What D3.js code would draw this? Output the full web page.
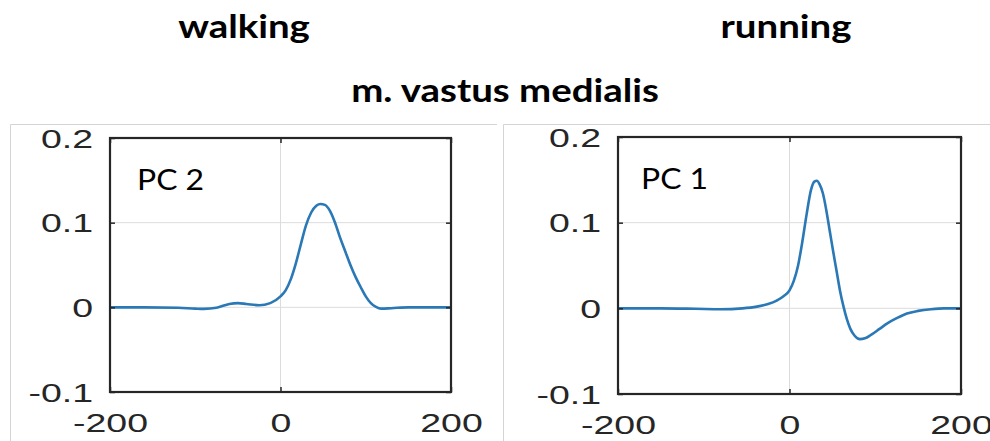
<!DOCTYPE html>
<html>
<head>
<meta charset="utf-8">
<script src="https://cdn.jsdelivr.net/npm/d3@7"></script>
<style>
  body { margin: 0; background: #fff; }
  svg { display: block; }
  .tick text { font-family: "Liberation Sans", Arial, sans-serif; fill: #262626; }
  .title { font-family: Lato, "Open Sans", sans-serif; font-weight: 700; fill: #000; }
  .pc { font-family: Lato, "Open Sans", sans-serif; fill: #000; }
</style>
</head>
<body>
<svg id="chart" width="990" height="441"></svg>
<script>
// tick values
const xTicks = [-200, 0, 200];
const yTicks = [-0.1, 0, 0.1, 0.2];
const gridX = [0];
const gridY = [0, 0.1];

// walking, PC 2
const walkX = [-200, -160, -120, -100, -90, -75, -60, -50, -40, -25, -12, 0, 6, 12, 18, 24, 30, 36, 42, 47, 52, 58, 64, 70, 76, 82, 88, 94, 100, 106, 112, 118, 130, 150, 175, 200];
const walkY = [0, 0, -0.0005, -0.0015, -0.0018, -0.0005, 0.004, 0.005, 0.004, 0.0025, 0.005, 0.013, 0.02, 0.033, 0.052, 0.075, 0.097, 0.112, 0.12, 0.122, 0.121, 0.114, 0.1, 0.082, 0.066, 0.05, 0.036, 0.024, 0.013, 0.005, 0.0005, -0.0015, -0.001, 0, 0, 0];

// running, PC 1
const runX = [-200, -150, -110, -80, -55, -38, -25, -15, -7, 0, 5, 10, 15, 20, 25, 29, 32, 35, 39, 43, 47, 51, 55, 59, 63, 67, 71, 76, 82, 88, 95, 105, 115, 125, 137, 150, 165, 180, 200];
const runY = [0, 0, -0.0005, -0.001, 0, 0.002, 0.005, 0.009, 0.014, 0.021, 0.032, 0.05, 0.078, 0.11, 0.138, 0.148, 0.149, 0.145, 0.134, 0.114, 0.09, 0.066, 0.043, 0.02, 0.002, -0.013, -0.024, -0.032, -0.036, -0.035, -0.031, -0.024, -0.017, -0.0115, -0.006, -0.003, -0.001, 0, 0];

const panels = [
  { label: "PC 2", xs: walkX, ys: walkY, frame: 10, box: [110, 451, 138, 392], pcAt: [137, 190] },
  { label: "PC 1", xs: runX, ys: runY, frame: 503, box: [618, 961, 137, 394], pcAt: [641, 189] }
];

const svg = d3.select("#chart");
const textStretch = 1.5;
const tickFmt = d => d === 0 ? "0" : (d < 0 ? "-" : "") + (Number.isInteger(d) ? String(Math.abs(d)) : Math.abs(d).toFixed(1));

// outer faint frames (screenshot borders)
panels.forEach(p => {
  svg.append("path")
    .attr("d", `M${p.frame + 0.5},441 V124.5 H${p.frame === 10 ? 497 : 990}`)
    .attr("fill", "none")
    .attr("stroke", "#d4d4d4")
    .attr("stroke-width", 1);
});

// headings
const heads = [["walking", 244, 38], ["running", 786, 38], ["m. vastus medialis", 505, 102]];
heads.forEach(h => {
  svg.append("text").attr("class", "title")
    .attr("transform", `translate(${h[1]},${h[2]}) scale(1.2,1)`)
    .attr("text-anchor", "middle").attr("font-size", 32).text(h[0]);
});

panels.forEach(p => {
  const [x0, x1, y0, y1] = p.box;
  const x = d3.scaleLinear().domain([-200, 200]).range([x0, x1]);
  const y = d3.scaleLinear().domain([-0.1, 0.2]).range([y1, y0]);
  const g = svg.append("g");

  g.append("rect").attr("x", x0).attr("y", y0)
    .attr("width", x1 - x0).attr("height", y1 - y0).attr("fill", "#fff");

  // grid
  g.selectAll(".gx").data(gridX).enter().append("line")
    .attr("x1", d => x(d)).attr("x2", d => x(d)).attr("y1", y0).attr("y2", y1)
    .attr("stroke", "#dcdcdc").attr("stroke-width", 1);
  g.selectAll(".gy").data(gridY).enter().append("line")
    .attr("y1", d => y(d)).attr("y2", d => y(d)).attr("x1", x0).attr("x2", x1)
    .attr("stroke", "#dcdcdc").attr("stroke-width", 1);

  // curve
  const pts = p.xs.map((v, i) => [v, p.ys[i]]);
  g.append("path").datum(pts)
    .attr("fill", "none")
    .attr("stroke", "#2a78b5")
    .attr("stroke-width", 2.6)
    .attr("d", d3.line().x(d => x(d[0])).y(d => y(d[1])).curve(d3.curveMonotoneX));

  // axes with inward ticks
  const ax = g.append("g").attr("transform", `translate(0,${y1})`)
    .call(d3.axisBottom(x).tickValues(xTicks).tickSizeInner(-5).tickSizeOuter(0).tickFormat(tickFmt));
  const ay = g.append("g").attr("transform", `translate(${x0},0)`)
    .call(d3.axisLeft(y).tickValues(yTicks).tickSizeInner(-5).tickSizeOuter(0).tickFormat(tickFmt));
  g.append("g").attr("transform", `translate(0,${y0})`)
    .call(d3.axisTop(x).tickValues(xTicks).tickSizeInner(-5).tickSizeOuter(0).tickFormat(""));
  g.append("g").attr("transform", `translate(${x1},0)`)
    .call(d3.axisRight(y).tickValues(yTicks).tickSizeInner(-5).tickSizeOuter(0).tickFormat(""));
  g.selectAll(".domain").remove();
  g.selectAll(".tick line").attr("stroke", "#262626").attr("stroke-width", 1.5);

  ax.selectAll("text").attr("font-size", 25)
    .attr("y", 0).attr("dy", 0)
    .attr("transform", `translate(0,40) scale(${textStretch},1)`);
  ay.selectAll("text").attr("font-size", 25)
    .attr("x", 0).attr("dy", "0.36em")
    .attr("transform", `translate(-17,0) scale(${textStretch},1)`);

  // box
  g.append("rect").attr("x", x0).attr("y", y0)
    .attr("width", x1 - x0).attr("height", y1 - y0)
    .attr("fill", "none").attr("stroke", "#262626").attr("stroke-width", 2.2);

  g.append("text").attr("class", "pc")
    .attr("transform", `translate(${p.pcAt[0]},${p.pcAt[1]}) scale(1.1,1)`)
    .attr("font-size", 29).text(p.label);
});
</script>
</body>
</html>
